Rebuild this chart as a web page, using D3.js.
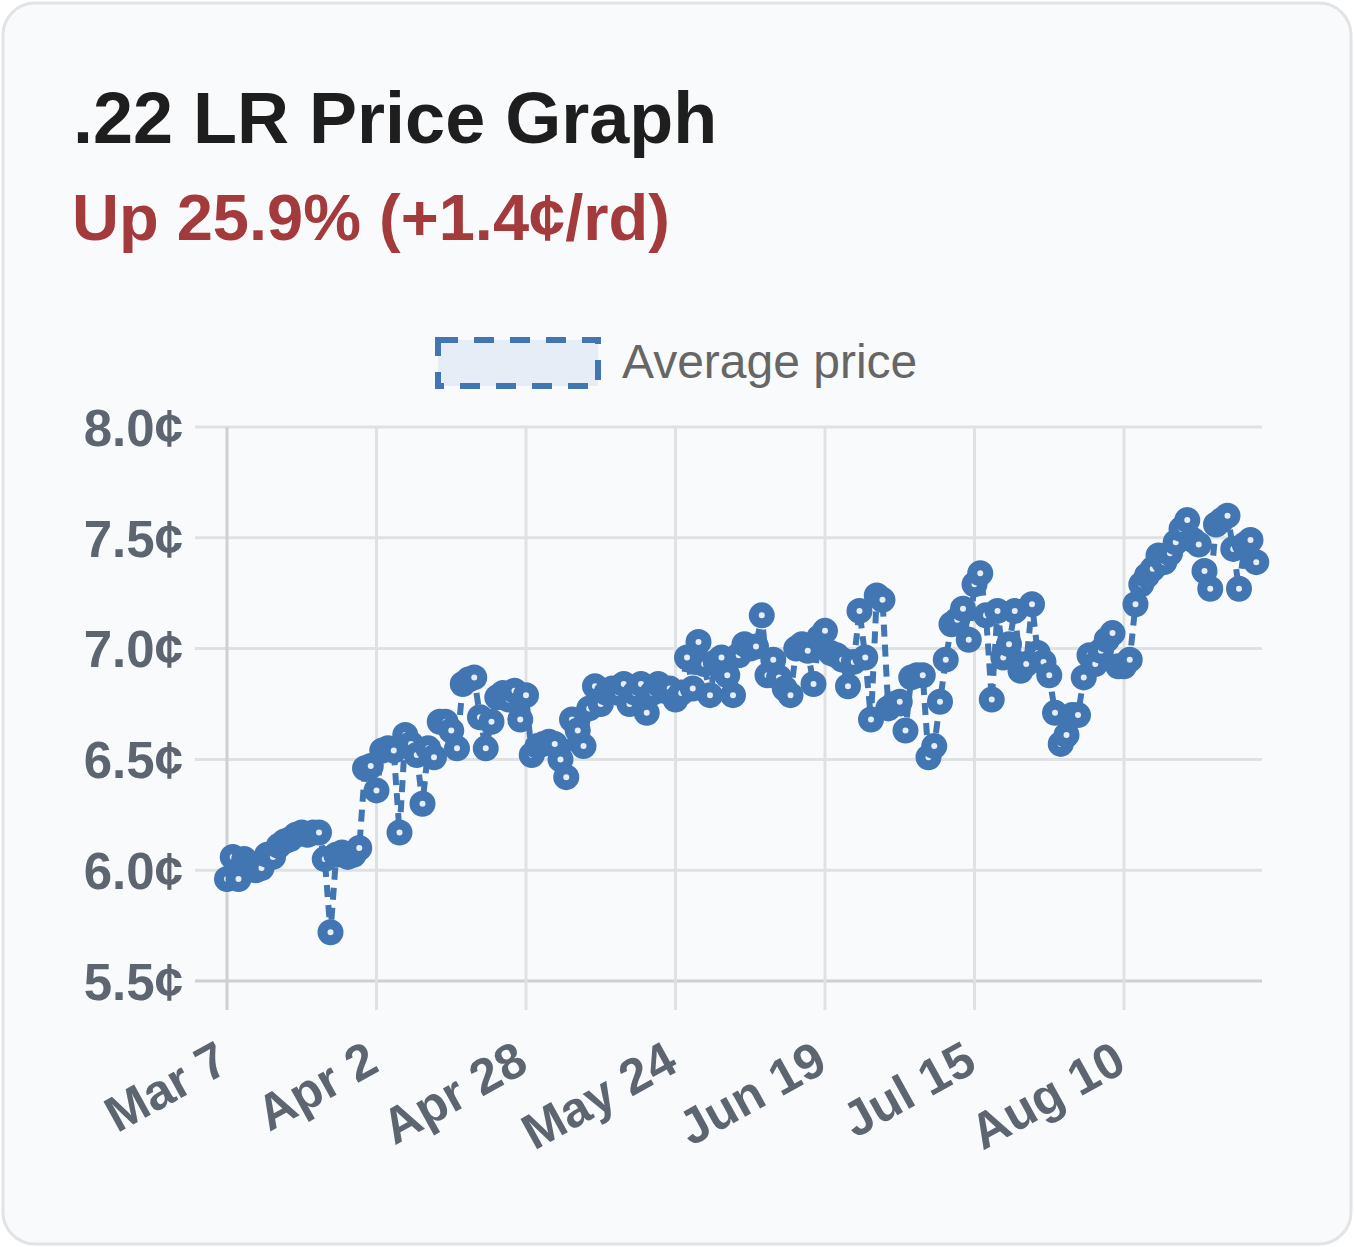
<!DOCTYPE html>
<html>
<head>
<meta charset="utf-8">
<style>
  body { margin: 0; background: #fff; }
  svg { display: block; }
  .axis text { font-family: "Liberation Sans", Arial, sans-serif; font-weight: 700; fill: #5d6570; }
</style>
</head>
<body>
<svg width="1354" height="1247"></svg>

<script src="https://d3js.org/d3.v7.min.js"></script>
<script>
    // daily average price in cents per round, starting Mar 7
    const startDate = "2024-03-07";
    const prices = [
        // Mar 7 - Apr 1
        5.96, 6.06, 5.96, 6.05, 6.03, 6.00, 6.01, 6.07, 6.06, 6.11, 6.13, 6.14, 6.16,
        6.17, 6.16, 6.17, 6.17, 6.05, 5.72, 6.07, 6.08, 6.06, 6.07, 6.10, 6.46, 6.47,
        // Apr 2 - Apr 27
        6.36, 6.54, 6.55, 6.54, 6.17, 6.61, 6.57, 6.52, 6.30, 6.55, 6.51, 6.67, 6.67,
        6.63, 6.55, 6.84, 6.86, 6.87, 6.69, 6.55, 6.67, 6.78, 6.80, 6.77, 6.81, 6.68,
        // Apr 28 - May 23
        6.79, 6.52, 6.56, 6.57, 6.58, 6.57, 6.50, 6.42, 6.68, 6.63, 6.56, 6.73, 6.83,
        6.75, 6.80, 6.82, 6.80, 6.84, 6.75, 6.80, 6.84, 6.71, 6.80, 6.84, 6.81, 6.82,
        // May 24 - Jun 18
        6.77, 6.80, 6.96, 6.82, 7.03, 6.93, 6.79, 6.94, 6.96, 6.88, 6.79, 6.97, 7.02,
        7.00, 7.01, 7.15, 6.88, 6.95, 6.87, 6.82, 6.79, 7.00, 7.02, 6.99, 6.84, 7.05,
        // Jun 19 - Jul 14
        7.08, 6.98, 6.97, 6.95, 6.83, 6.94, 7.17, 6.96, 6.68, 7.24, 7.22, 6.73, 6.75,
        6.76, 6.63, 6.87, 6.88, 6.88, 6.51, 6.56, 6.76, 6.95, 7.11, 7.13, 7.18, 7.04,
        // Jul 15 - Aug 9
        7.29, 7.34, 7.15, 6.77, 7.17, 6.96, 7.02, 7.17, 6.90, 6.93, 7.20, 6.98, 6.94,
        6.88, 6.71, 6.57, 6.61, 6.70, 6.70, 6.87, 6.97, 6.93, 6.99, 7.04, 7.07, 6.92,
        // Aug 10 - Sep 2
        6.92, 6.95, 7.20, 7.29, 7.33, 7.36, 7.42, 7.39, 7.43, 7.48, 7.54, 7.58, 7.49,
        7.47, 7.35, 7.27, 7.56, 7.58, 7.60, 7.45, 7.27, 7.47, 7.49, 7.39
    ];
    const yTicks = [5.5, 6.0, 6.5, 7.0, 7.5, 8.0];
    const xTickDays = [0, 26, 52, 78, 104, 130, 156];
    const xTickLabels = ["Mar 7", "Apr 2", "Apr 28", "May 24", "Jun 19", "Jul 15", "Aug 10"];

    const blue = "#4276b2";
    const start = d3.utcParse("%Y-%m-%d")(startDate);
    const day = n => d3.utcDay.offset(start, n);

    let data = prices.map((v, i) => ({ date: day(i), value: v }));

    let svg = d3.select("svg");

    // card
    svg.append("rect")
        .attr("x", 3).attr("y", 3)
        .attr("width", 1348).attr("height", 1241)
        .attr("rx", 32)
        .style("fill", "#f9fafc")
        .style("stroke", "#e2e3e5")
        .style("stroke-width", 3);

    svg.append("text")
        .attr("x", 73).attr("y", 143)
        .style("font-family", "'Liberation Sans', Arial, sans-serif")
        .style("font-weight", 700)
        .style("font-size", "72px")
        .style("fill", "#1e1e1e")
        .text(".22 LR Price Graph");

    svg.append("text")
        .attr("x", 72).attr("y", 240)
        .style("font-family", "'Liberation Sans', Arial, sans-serif")
        .style("font-weight", 700)
        .style("font-size", "65px")
        .style("fill", "#a33a3b")
        .text("Up 25.9% (+1.4¢/rd)");

    // legend
    svg.append("rect")
        .attr("x", 438).attr("y", 340)
        .attr("width", 160).attr("height", 46)
        .style("fill", "#e6edf6")
        .style("stroke", blue)
        .style("stroke-width", 6)
        .style("stroke-dasharray", "20,16");

    svg.append("text")
        .attr("x", 622).attr("y", 378)
        .style("font-family", "'Liberation Sans', Arial, sans-serif")
        .style("font-size", "48px")
        .style("fill", "#666")
        .text("Average price");

    let x = d3.scaleUtc()
        .domain([day(0), day(180)])
        .range([227, 1262]);

    let y = d3.scaleLinear()
        .domain([5.5, 8.0])
        .range([981, 427]);

    // grid
    svg.selectAll(".hgrid")
        .data(yTicks)
        .join("line")
        .attr("x1", 195).attr("x2", 1262)
        .attr("y1", d => y(d)).attr("y2", d => y(d))
        .style("stroke", d => d === 5.5 ? "#cfd0d2" : "#e0e1e3")
        .style("stroke-width", 3);

    svg.selectAll(".vgrid")
        .data(xTickDays)
        .join("line")
        .attr("x1", d => x(day(d))).attr("x2", d => x(day(d)))
        .attr("y1", 427).attr("y2", 1010)
        .style("stroke", d => d === 0 ? "#cfd0d2" : "#e0e1e3")
        .style("stroke-width", 3);

    // axes (labels only, grid drawn above)
    let yAxis = svg.append("g")
        .attr("class", "axis")
        .attr("transform", "translate(195,0)")
        .call(d3.axisLeft(y).tickValues(yTicks).tickSize(0).tickPadding(12)
            .tickFormat(d => d.toFixed(1) + "¢"));
    yAxis.select(".domain").remove();
    yAxis.selectAll("text").style("font-size", "51px").attr("dy", "0.36em");

    let xAxis = svg.append("g")
        .attr("class", "axis")
        .attr("transform", "translate(0,1010)")
        .call(d3.axisBottom(x).tickValues(xTickDays.map(day)).tickSize(0)
            .tickFormat((d, i) => xTickLabels[i]));
    xAxis.select(".domain").remove();
    xAxis.selectAll("text")
        .style("font-size", "50px")
        .style("text-anchor", "end")
        .attr("x", 0).attr("y", 0).attr("dy", 0)
        .attr("transform", "translate(4,60) rotate(-29)");

    // line
    let line = d3.line()
        .x(d => x(d.date))
        .y(d => y(d.value));

    svg.append("path")
        .datum(data)
        .attr("d", line)
        .style("fill", "none")
        .style("stroke", blue)
        .style("stroke-width", 6)
        .style("stroke-dasharray", "12,8");

    svg.selectAll(".pt")
        .data(data)
        .join("circle")
        .attr("class", "pt")
        .attr("cx", d => x(d.date))
        .attr("cy", d => y(d.value))
        .attr("r", 8)
        .style("fill", "#e6edf6")
        .style("stroke", blue)
        .style("stroke-width", 10);
</script>
</body>
</html>
